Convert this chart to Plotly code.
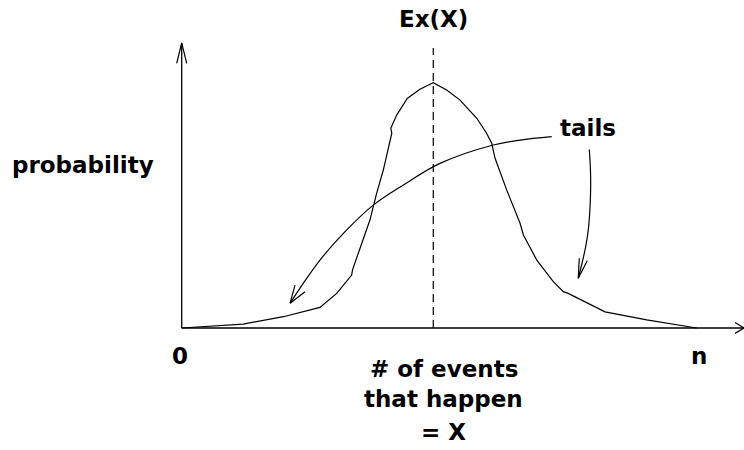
import plotly.graph_objects as go

# Sketch of a probability distribution over "# of events that happen" (0..n)
N_MAX = 20

# bell-shaped distribution curve (hand-drawn outline)
curve_x = [0.0, 2.39, 3.95, 5.37, 6.02, 6.60, 6.64, 7.31, 7.57, 7.83, 8.16, 8.12,
           8.35, 8.76, 9.25, 9.77, 10.29, 10.81, 11.46, 11.84, 12.04, 12.17, 12.62,
           13.14, 13.27, 13.79, 14.43, 14.82, 15.01, 16.44, 18.06, 20.0]
curve_y = [0.0, 0.016, 0.046, 0.084, 0.141, 0.216, 0.239, 0.440, 0.549, 0.644, 0.794, 0.814,
           0.868, 0.936, 0.973, 1.000, 0.970, 0.929, 0.855, 0.794, 0.753, 0.692, 0.563,
           0.427, 0.379, 0.277, 0.189, 0.148, 0.141, 0.066, 0.033, 0.0]

# expected value marker
ex_x = 9.77
ex_top = 1.141

# "tails" pointer to the left tail
left_ptr_x = [14.37, 13.14, 12.10, 10.03, 8.61, 7.44, 6.28, 5.37, 4.72, 4.21]
left_ptr_y = [0.780, 0.766, 0.746, 0.671, 0.583, 0.501, 0.386, 0.277, 0.182, 0.101]
left_head_x = [4.40, 4.21, 4.79]
left_head_y = [0.175, 0.101, 0.148]

# "tails" pointer to the right tail
right_ptr_x = [15.83, 15.88, 15.87, 15.79, 15.70, 15.55, 15.40]
right_ptr_y = [0.728, 0.624, 0.522, 0.400, 0.338, 0.265, 0.203]
right_head_x = [15.44, 15.40, 15.75]
right_head_y = [0.284, 0.203, 0.274]

# axes with open arrow heads
yaxis_line_x = [0, 0]
yaxis_line_y = [0, 1.162]
yaxis_head_x = [-0.194, 0, 0.194]
yaxis_head_y = [1.079, 1.162, 1.079]
xaxis_line_x = [0, 21.84]
xaxis_line_y = [0, 0]
xaxis_head_x = [21.49, 21.84, 21.49]
xaxis_head_y = [0.022, 0, -0.022]

# text labels
labels = ["probability", "Ex(X)", "tails", "0", "n",
          "# of events", "that happen", "= X"]
label_x = [-3.83, 9.76, 15.78, -0.07, 20.09, 10.17, 10.17, 10.17]
label_y = [0.663, 1.261, 0.815, -0.114, -0.114, -0.166, -0.288, -0.424]

INK = "#000000"
FONT = dict(family="DejaVu Sans", size=23, color=INK, weight="bold")

fig = go.Figure()


def add_line(xs, ys, width=1.2, dash=None, shape="linear"):
    fig.add_trace(go.Scatter(
        x=xs, y=ys, mode="lines", cliponaxis=False, hoverinfo="skip",
        line=dict(color=INK, width=width, dash=dash, shape=shape),
    ))


add_line(xaxis_line_x, xaxis_line_y, width=1.6)
add_line(xaxis_head_x, xaxis_head_y, width=1.2)
add_line(yaxis_line_x, yaxis_line_y, width=1.3)
add_line(yaxis_head_x, yaxis_head_y, width=1.2)
add_line([ex_x, ex_x], [0, ex_top], width=1.2, dash="8px,5px")
add_line(curve_x, curve_y, width=1.2)
add_line(left_ptr_x, left_ptr_y, width=1.2, shape="spline")
add_line(left_head_x, left_head_y, width=1.2)
add_line(right_ptr_x, right_ptr_y, width=1.2, shape="spline")
add_line(right_head_x, right_head_y, width=1.2)

for text, tx, ty in zip(labels, label_x, label_y):
    fig.add_annotation(x=tx, y=ty, xref="x", yref="y", text=text,
                       showarrow=False, xanchor="center", yanchor="middle",
                       font=FONT)

# 25.75 px per event unit, 245.3 px per probability unit
fig.update_layout(
    width=744, height=450,
    margin=dict(l=0, r=0, t=0, b=0),
    paper_bgcolor="white", plot_bgcolor="white",
    showlegend=False,
    xaxis=dict(range=[-7.056, 21.837], visible=False, fixedrange=True),
    yaxis=dict(range=[-0.4974, 1.3372], visible=False, fixedrange=True),
)

fig.write_html("out.html")
